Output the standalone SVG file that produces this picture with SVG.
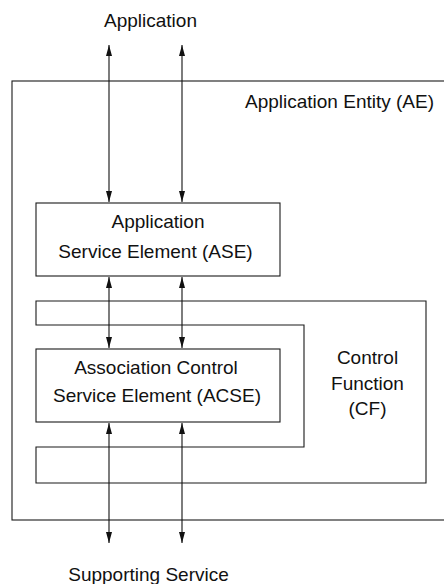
<svg xmlns="http://www.w3.org/2000/svg" width="444" height="584" viewBox="0 0 444 584">
<style>
.box{fill:none;stroke:#1a1a1a;stroke-width:1.1}
.lbl{font-family:"Liberation Sans",Arial,Helvetica,sans-serif;font-size:19px;fill:#111;text-anchor:middle}
.arr{stroke:#111;stroke-width:1.1;fill:none;marker-start:url(#ah);marker-end:url(#ah)}
</style>
<defs>
<marker id="ah" markerUnits="userSpaceOnUse" markerWidth="11" markerHeight="6" refX="11" refY="3" orient="auto-start-reverse" viewBox="0 0 11 6">
<path d="M0,0 L11,3 L0,6 z" fill="#111"/>
</marker>
</defs>
<rect width="444" height="584" fill="#fff"/>
<g id="ext-application"><text class="lbl" x="150.5" y="27">Application</text></g>
<g id="ae">
<rect class="box" x="12" y="81" width="450" height="439"/>
<text class="lbl" x="339.5" y="108">Application Entity (AE)</text>
</g>
<g id="ase">
<rect class="box" x="36" y="203" width="244" height="73"/>
<text class="lbl" x="158" y="228">Application</text>
<text class="lbl" x="155.5" y="258">Service Element (ASE)</text>
</g>
<g id="cf">
<path class="box" d="M36,301 L426,301 L426,483 L36,483 L36,447 L304,447 L304,325 L36,325 Z"/>
<text class="lbl" x="367.5" y="364">Control</text>
<text class="lbl" x="367.5" y="390">Function</text>
<text class="lbl" x="367.5" y="415">(CF)</text>
</g>
<g id="acse">
<rect class="box" x="36" y="349" width="244" height="73"/>
<text class="lbl" x="156" y="374">Association Control</text>
<text class="lbl" x="157" y="402">Service Element (ACSE)</text>
</g>
<g id="ext-supporting"><text class="lbl" x="148.5" y="581">Supporting Service</text></g>
<g id="connectors">
<line class="arr" x1="109" y1="45" x2="109" y2="202"/>
<line class="arr" x1="182" y1="45" x2="182" y2="202"/>
<line class="arr" x1="109" y1="277" x2="109" y2="348"/>
<line class="arr" x1="182" y1="277" x2="182" y2="348"/>
<line class="arr" x1="109" y1="423" x2="109" y2="543"/>
<line class="arr" x1="182" y1="423" x2="182" y2="543"/>
</g>
</svg>
